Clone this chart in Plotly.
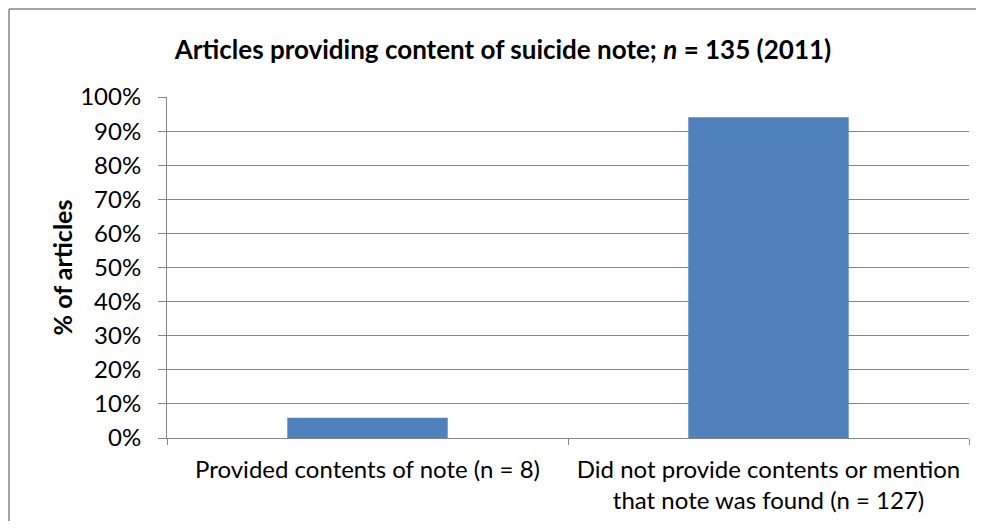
import plotly.graph_objects as go

categories = ["Provided contents of note (n = 8)",
              "Did not provide contents or mention<br>that note was found (n = 127)"]
values = [5.93, 94.07]
tick_vals = [0, 10, 20, 30, 40, 50, 60, 70, 80, 90, 100]
tick_text = [f"{v}%" for v in tick_vals]

FONT = "Lato"
OFF = 8  # page body margin
W, H = 984 - 2 * OFF, 529 - 2 * OFF
ml, mt = 167 - OFF, 97 - OFF
mr = W - (969 - OFF)
mb = H - (438 - OFF)
pw, ph = W - ml - mr, H - mt - mb

fig = go.Figure(go.Bar(x=categories, y=values, marker=dict(color="#4F81BD", line=dict(width=0)),
                       hoverinfo="skip"))

fig.update_layout(
    width=W, height=H,
    margin=dict(l=ml, r=mr, t=mt, b=mb),
    paper_bgcolor="white", plot_bgcolor="white",
    bargap=0.6,
    showlegend=False,
    font=dict(family=FONT, size=24, color="black"),
    title=dict(text="<b>Articles providing content of suicide note; <i>n</i> = 135 (2011)</b>",
               x=(503 - OFF) / W, xanchor="center", y=1 - (50 - OFF) / H, yanchor="middle",
               font=dict(family=FONT, size=26, color="black")),
)
fig.update_xaxes(
    showline=True, linecolor="#868686", linewidth=1,
    ticks="outside", tickson="boundaries", ticklen=6, tickcolor="#868686",
    showgrid=False, tickfont=dict(size=24), ticklabelstandoff=10,
)
fig.update_yaxes(
    range=[0, 100], tickvals=tick_vals, ticktext=tick_text,
    showline=True, linecolor="#868686", linewidth=1,
    ticks="outside", ticklen=8, tickcolor="#868686",
    showgrid=True, gridcolor="#868686", gridwidth=1,
    tickfont=dict(size=24), zeroline=False, ticklabelstandoff=12,
    title=dict(text="<b>% of articles</b>", font=dict(size=25), standoff=0),
)
bx0 = (9 - 167) / pw
by1 = 1 + (97 - 9) / ph
fig.add_shape(type="line", xref="paper", yref="paper", x0=bx0, x1=1.2, y0=by1, y1=by1,
              line=dict(color="#868686", width=1.5), layer="below")
fig.add_shape(type="line", xref="paper", yref="paper", x0=bx0, x1=bx0, y0=-1, y1=by1,
              line=dict(color="#868686", width=1.5), layer="below")

fig.write_html("out.html")
